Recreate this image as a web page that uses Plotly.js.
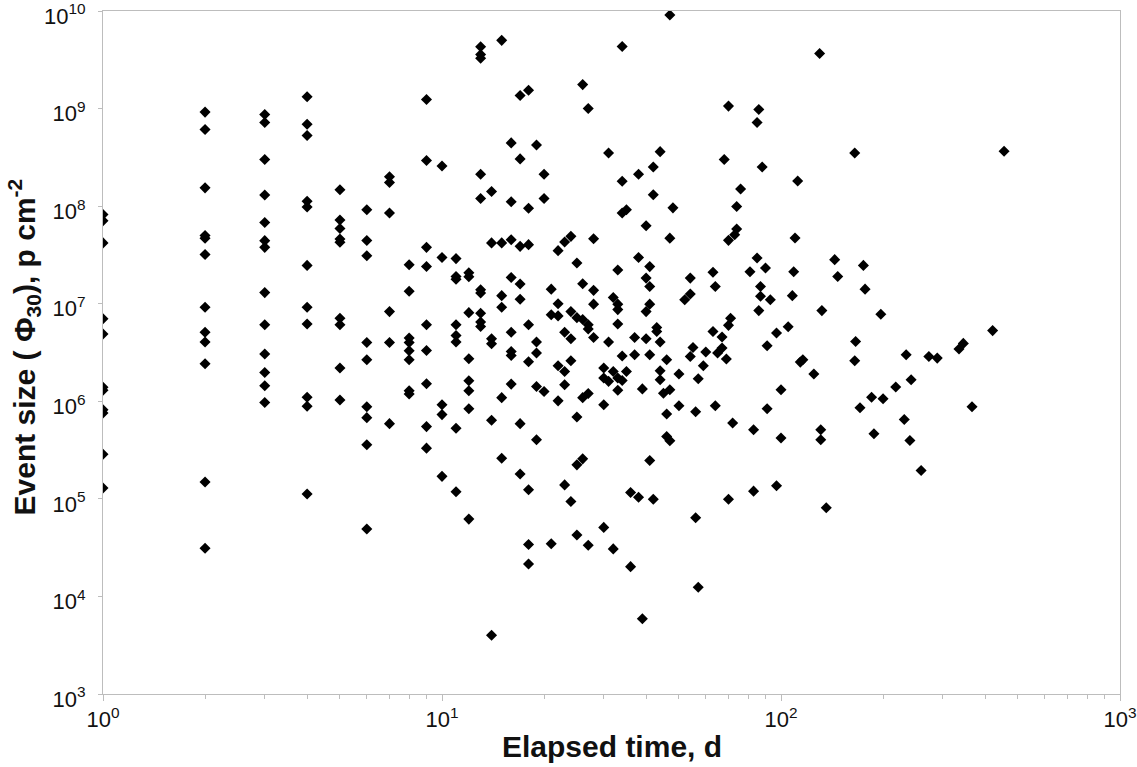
<!DOCTYPE html>
<html>
<head>
<meta charset="utf-8">
<script src="https://cdn.plot.ly/plotly-3.0.1.min.js"></script>
<style>html,body{margin:0;padding:0;background:#fff;}#chart{width:1137px;height:767px;}</style>
</head>
<body>
<div id="chart"></div>
<script>
// Elapsed time (days) and event size (Phi30, p cm^-2)
const elapsedDays = [
  1,1,1,1,1,1,1,1,1,1,1,
  2,2,2,2,2,2,2,2,2,2,2,2,
  3,3,3,3,3,3,3,3,3,3,3,3,3,
  4,4,4,4,4,4,4,4,4,4,4,
  5,5,5,5,5,5,5,5,5,
  6,6,6,6,6,6,6,6,6,
  7,7,7,7,7,7,
  8,8,8,8,8,8,8,8,
  9,9,9,9,9,9,9,9,9,
  10,10,10,10,10,
  11,11,11,11,11,11,11,11,
  12,12,12,12,12,12,12,12,
  13,13,13,13,13,13,13,13,13,13,
  14,14,14,14,14,14,
  15,15,15,15,15,15,
  16,16,16,16,16,16,16,16,
  17,17,17,17,17,17,17,
  18,18,18,18,18,18,18,18,
  19,19,19,19,19,
  20,20,20,
  21,21,21,
  22,22,22,22,22,
  23,23,23,23,23,
  24,24,24,24,24,
  25,25,25,25,25,
  26,26,26,26,26,
  27,27,27,27,27,
  28,28,28,28,
  30,30,30,30,
  31,31,31,
  32,32,32,
  33,33,33,33,33,33,
  34,34,34,34,34,
  35,35,
  36,36, 37,37, 38,38,38, 39,39,
  40,40,40,40,
  41,41,41,41,41,
  42,42,42, 43,43,
  44,44,44,44, 45,
  46,46,46, 47,47,47,47, 48,
  50,50, 52, 54,54,54, 55, 56,56, 57,57, 59, 60,
  63,63, 64,64, 65, 67,67, 68, 69,
  70,70,70,70, 71, 72, 73, 74,74, 76,
  81, 83,83, 85,85, 86,86, 87,87, 88, 90, 91,91, 93,
  97,97, 100,100, 105, 108, 109, 110, 112, 114, 116, 125,
  130, 131,131, 132, 136, 144, 147, 165,165, 166, 171, 175, 177,
  185, 188, 197, 200, 218, 231, 234, 240, 242, 259, 273, 289,
  335, 345, 366, 421, 455
];
const eventSize = [
  8.2e7,7.1e7,4.2e7,7.0e6,4.9e6,1.39e6,1.3e6,8.2e5,7.6e5,2.87e5,1.29e5,
  9.2e8,6.1e8,1.54e8,5.0e7,4.7e7,3.2e7,9.2e6,5.1e6,4.05e6,2.42e6,1.49e5,3.12e4,
  8.7e8,7.2e8,3.0e8,1.3e8,6.8e7,4.43e7,3.78e7,1.3e7,6.1e6,3.05e6,1.97e6,1.44e6,9.7e5,
  1.32e9,6.9e8,5.3e8,1.12e8,9.8e7,2.47e7,9.2e6,6.2e6,1.1e6,8.9e5,1.12e5,
  1.47e8,7.2e7,5.9e7,4.6e7,4.27e7,7.1e6,6.1e6,2.19e6,1.03e6,
  9.2e7,4.45e7,3.1e7,4.0e6,2.67e6,8.8e5,6.8e5,3.58e5,4.9e4,
  2.0e8,1.75e8,8.5e7,8.3e6,4.0e6,5.9e5,
  2.51e7,1.34e7,4.45e6,4.0e6,3.3e6,2.67e6,1.28e6,1.19e6,
  1.24e9,2.93e8,3.78e7,2.41e7,6.1e6,3.32e6,1.51e6,5.5e5,3.31e5,
  2.58e8,2.98e7,9.2e5,7.3e5,1.7e5,
  2.9e7,1.9e7,1.78e7,6.1e6,4.73e6,4.05e6,5.3e5,1.18e5,
  2.08e7,1.89e7,8.1e6,2.73e6,1.62e6,1.28e6,8.4e5,6.2e4,
  4.3e9,3.58e9,3.28e9,2.12e8,1.2e8,1.39e7,1.29e7,8.0e6,6.5e6,5.85e6,
  1.41e8,4.2e7,4.38e6,3.89e6,6.4e5,4.0e3,
  5.0e9,4.2e7,1.21e7,9.2e6,1.09e6,2.61e5,
  4.45e8,1.11e8,4.53e7,1.86e7,5.1e6,3.24e6,2.95e6,1.5e6,
  1.36e9,3.05e8,3.87e7,1.59e7,1.11e7,5.9e5,1.8e5,
  1.54e9,9.5e7,4.03e7,6.1e6,2.54e6,1.24e5,3.4e4,2.15e4,
  4.24e8,4.05e6,3.12e6,1.42e6,4.03e5,
  2.12e8,1.2e8,1.26e6,
  1.41e7,7.7e6,3.46e4,
  3.5e7,1.0e7,7.5e6,2.31e6,1.01e6,
  4.3e7,5.1e6,2.02e6,1.48e6,1.39e5,
  4.9e7,8.3e6,4.38e6,2.6e6,9.4e4,
  2.61e7,7.2e6,6.9e5,2.23e5,4.27e4,
  1.76e9,1.6e7,6.9e6,1.09e6,2.57e5,
  1.0e9,6.1e6,5.5e6,1.2e6,3.35e4,
  4.64e7,1.37e7,9.9e6,4.51e6,
  2.19e6,1.73e6,9.2e5,5.1e4,
  3.51e8,4.05e6,1.6e6,
  1.16e7,2.02e6,3.07e4,
  2.22e7,9.9e6,8.7e6,6.2e6,1.73e6,1.3e6,
  4.32e9,1.8e8,8.5e7,2.91e6,1.63e6,
  9.2e7,2.02e6,
  1.16e5,2.02e4, 4.51e6,3.0e6, 2.12e8,2.98e7,1.04e5, 1.34e6,5.9e3,
  6.3e7,1.83e7,8.3e6,4.38e6,
  2.4e7,1.5e7,9.9e6,3.0e6,2.47e5,
  2.52e8,1.31e8,9.9e4, 5.7e6,5.2e6,
  3.62e8,4.05e6,2.06e6,1.66e6, 1.21e6,
  2.67e6,7.4e5,4.36e5, 9.1e9,4.7e7,1.31e6,3.94e5, 9.6e7,
  1.9e6,9.0e5, 1.1e7, 1.83e7,1.26e7,2.88e6, 3.56e6, 7.8e5,6.4e4, 1.7e6,1.24e4, 2.31e6, 3.2e6,
  2.1e7,5.2e6, 1.5e7,9.0e5, 3.12e6, 4.55e6,3.51e6, 3.0e8, 2.71e6,
  1.06e9,4.46e7,6.0e6,9.9e4, 7.1e6, 6.0e5, 5.1e7, 5.83e7,9.9e7, 1.5e8,
  2.13e7, 5.1e5,1.2e5, 7.2e8,2.94e7, 9.8e8,8.5e6, 1.5e7,1.19e7, 2.52e8, 2.32e7, 3.71e6,8.4e5, 1.1e7,
  1.36e5,5.0e6, 1.31e6,4.2e5, 5.8e6, 1.21e7, 2.13e7, 4.72e7, 1.81e8, 2.52e6, 2.67e6, 1.9e6,
  3.66e9, 5.1e5,4.03e5, 8.5e6, 8.1e4, 2.83e7, 1.9e7, 3.51e8,2.6e6, 4.1e6, 8.6e5, 2.47e7, 1.41e7,
  1.1e6, 4.64e5, 7.8e6, 1.06e6, 1.4e6, 6.5e5, 3.0e6, 3.97e5, 1.66e6, 1.95e5, 2.88e6, 2.77e6,
  3.43e6, 3.92e6, 8.8e5, 5.3e6, 3.65e8
];

const xTickVals = [1, 10, 100, 1000];
const xTickText = ['10<sup>0</sup>', '10<sup>1</sup>', '10<sup>2</sup>', '10<sup>3</sup>'];
const yTickVals = [1e3, 1e4, 1e5, 1e6, 1e7, 1e8, 1e9, 1e10];
const yTickText = ['10<sup>3</sup>', '10<sup>4</sup>', '10<sup>5</sup>', '10<sup>6</sup>',
                   '10<sup>7</sup>', '10<sup>8</sup>', '10<sup>9</sup>', '10<sup>10</sup>'];
const xTitle = 'Elapsed time, d';
const yTitle = 'Event size ( Φ<sub>30</sub>), p cm<sup>-2</sup>';

const xMinor = [];
for (let d = 0; d < 3; d++) for (let k = 2; k <= 9; k++) xMinor.push(k * Math.pow(10, d));

const axisGray = '#bdbdbd';
const fam = 'Liberation Sans, Arial, sans-serif';

const trace = {
  type: 'scatter', mode: 'markers',
  x: elapsedDays, y: eventSize,
  marker: {symbol: 'diamond', size: 8.5, color: '#000000', line: {width: 0}},
  hoverinfo: 'x+y'
};

const layout = {
  width: 1137, height: 767,
  margin: {l: 103, r: 17, t: 11, b: 73, pad: 0},
  paper_bgcolor: '#ffffff', plot_bgcolor: '#ffffff',
  showlegend: false,
  font: {family: fam, color: '#111111', size: 22},
  xaxis: {
    type: 'log', range: [0, 3],
    tickmode: 'array', tickvals: xTickVals, ticktext: xTickText,
    ticks: 'outside', ticklen: 6, tickcolor: axisGray, tickwidth: 1,
    minor: {tickmode: 'array', tickvals: xMinor, ticks: 'outside', ticklen: 4, tickcolor: axisGray, showgrid: false},
    showgrid: false, zeroline: false,
    showline: true, linecolor: axisGray, linewidth: 1, mirror: true,
    tickfont: {size: 22, family: fam, color: '#111'},
    ticklabeloverflow: 'allow'
  },
  yaxis: {
    type: 'log', range: [3, 10],
    tickmode: 'array', tickvals: yTickVals, ticktext: yTickText,
    ticks: 'outside', ticklen: 4, tickcolor: axisGray, tickwidth: 1,
    showgrid: false, zeroline: false,
    showline: true, linecolor: axisGray, linewidth: 1, mirror: true,
    tickfont: {size: 22, family: fam, color: '#111'},
    ticklabeloverflow: 'allow',
    ticklabelstandoff: 8,
    ticklabelshift: 5
  },
  annotations: [
    {text: xTitle, xref: 'paper', yref: 'paper', x: 0.5, y: 0, xanchor: 'center', yanchor: 'middle',
     yshift: -52, showarrow: false, font: {size: 30, family: fam, color: '#111', weight: 'bold'}},
    {text: yTitle, xref: 'paper', yref: 'paper', x: 0, y: 0.5, xanchor: 'center', yanchor: 'middle',
     xshift: -79, yshift: 5, textangle: -90, showarrow: false, font: {size: 30, family: fam, color: '#111', weight: 'bold'}}
  ]
};

Plotly.newPlot('chart', [trace], layout, {staticPlot: true, displayModeBar: false});
</script>
</body>
</html>
